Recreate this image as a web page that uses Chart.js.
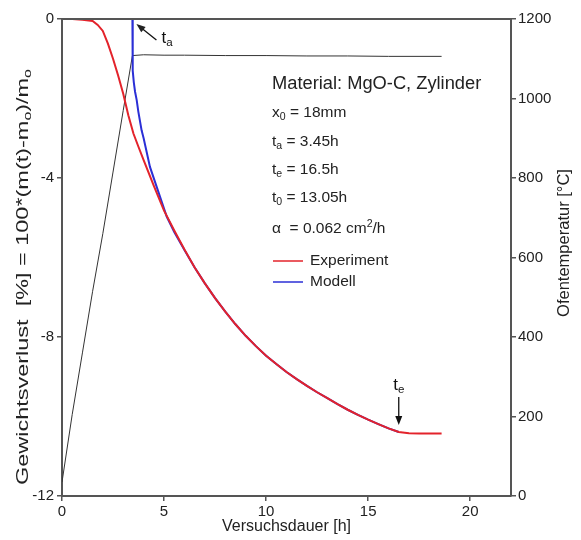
<!DOCTYPE html>
<html><head><meta charset="utf-8">
<script src="https://cdn.jsdelivr.net/npm/chart.js@4/dist/chart.umd.min.js"></script>
<style>html,body{margin:0;padding:0;background:#fff}#wrap{width:581px;height:540px;position:relative}</style>
</head><body><div id="wrap"><canvas id="c" width="581" height="540"></canvas></div>
<script>
// ---- data ----
const expTime = [0,0.5,1,1.5,1.75,2,2.25,2.5,2.75,3,3.25,3.5,3.75,4,4.5,5,5.5,6,6.5,7,7.5,8,8.5,9,9.5,10,10.5,11,11.5,12,12.5,13,13.5,14,14.5,15,15.5,16,16.5,17,17.5,18,18.6];
const expLoss = [0,0,-0.02,-0.05,-0.15,-0.3,-0.62,-1.0,-1.42,-1.88,-2.42,-2.88,-3.22,-3.55,-4.2,-4.82,-5.32,-5.8,-6.25,-6.65,-7.02,-7.36,-7.68,-7.97,-8.23,-8.47,-8.68,-8.88,-9.06,-9.23,-9.39,-9.54,-9.69,-9.83,-9.96,-10.08,-10.19,-10.3,-10.39,-10.42,-10.43,-10.43,-10.43];
const modTime = [3.45,3.46,3.47,3.52,3.58,3.66,3.74,3.9,4.0,4.31,4.8,5.13,5.5,6,6.5,7,7.5,8,8.5,9,9.5,10,10.5,11,11.5,12,12.5,13,13.5,14,14.5,15,15.5,16,16.5];
const modLoss = [0,-0.8,-1.3,-1.6,-1.83,-2.04,-2.33,-2.8,-3.0,-3.72,-4.47,-4.97,-5.36,-5.81,-6.25,-6.65,-7.02,-7.36,-7.68,-7.97,-8.23,-8.47,-8.68,-8.88,-9.06,-9.23,-9.39,-9.54,-9.69,-9.83,-9.96,-10.08,-10.19,-10.3,-10.39];
const tempTime = [0,0.5,1,1.5,2,2.5,3,3.45,4,5,6,8,10,12,14,16,18.6];
const tempValue = [35,205,360,515,660,815,970,1108,1110,1109,1109,1108,1108,1107,1107,1106,1106];
const xTicks = [0,5,10,15,20];
const yTicks = [0,-4,-8,-12];
const y2Ticks = [0,200,400,600,800,1000,1200];
const seriesNames = ['Experiment','Modell','Ofentemperatur'];
const ta = 3.45, te = 16.5;

const FONT = '"Liberation Sans", Arial, Helvetica, sans-serif';
const TXT = '#222';
const AX = '#555';

function toXY(xs, ys){ return xs.map((x,i)=>({x, y: ys[i]})); }

// rich text: parts = [[text, mode]] mode 0 normal, 1 sub, 2 sup
function rich(ctx, parts, x, y, size, align){
  const m = []; let w = 0;
  for (const [t, mode] of parts){
    const fs = mode ? size*0.68 : size;
    ctx.font = fs + 'px ' + FONT;
    const tw = ctx.measureText(t).width;
    m.push([t, mode, fs, tw]); w += tw;
  }
  let cx = align === 'center' ? x - w/2 : (align === 'right' ? x - w : x);
  ctx.textAlign = 'left'; ctx.textBaseline = 'middle';
  for (const [t, mode, fs, tw] of m){
    ctx.font = fs + 'px ' + FONT;
    const dy = mode === 1 ? size*0.28 : (mode === 2 ? -size*0.32 : 0);
    ctx.fillText(t, cx, y + dy);
    cx += tw;
  }
}
function arrow(ctx, x1, y1, x2, y2){
  const a = Math.atan2(y2-y1, x2-x1), L = 9, W = 3.5;
  ctx.beginPath(); ctx.moveTo(x1,y1); ctx.lineTo(x2 - Math.cos(a)*L*0.8, y2 - Math.sin(a)*L*0.8); ctx.stroke();
  ctx.beginPath();
  ctx.moveTo(x2, y2);
  ctx.lineTo(x2 - Math.cos(a)*L + Math.sin(a)*W, y2 - Math.sin(a)*L - Math.cos(a)*W);
  ctx.lineTo(x2 - Math.cos(a)*L - Math.sin(a)*W, y2 - Math.sin(a)*L + Math.cos(a)*W);
  ctx.closePath(); ctx.fill();
}

const decor = {
  id: 'decor',
  afterDraw(chart){
    const ctx = chart.ctx, a = chart.chartArea, sx = chart.scales.x, sy = chart.scales.y;
    ctx.save();
    // top frame line
    ctx.strokeStyle = AX; ctx.lineWidth = 2;
    ctx.beginPath(); ctx.moveTo(a.left, a.top); ctx.lineTo(a.right, a.top); ctx.stroke();
    ctx.fillStyle = TXT; ctx.strokeStyle = '#111'; ctx.lineWidth = 1.3;
    // ta arrow + label
    const tx = sx.getPixelForValue(ta), ty = sy.getPixelForValue(0);
    arrow(ctx, tx + 24, ty + 21, tx + 4, ty + 5);
    ctx.fillStyle = '#111';
    rich(ctx, [['t',0],['a',1]], tx + 29, ty + 19, 17, 'left');
    // te arrow + label
    const ex = sx.getPixelForValue(te), ey = sy.getPixelForValue(-10.39);
    arrow(ctx, ex, ey - 35, ex, ey - 7);
    rich(ctx, [['t',0],['e',1]], ex, ey - 47, 17, 'center');
    // parameter block
    ctx.fillStyle = TXT;
    const bx = 272;
    rich(ctx, [['Material: MgO-C, Zylinder',0]], bx, 84, 18.3, 'left');
    rich(ctx, [['x',0],['0',1],[' = 18mm',0]], bx, 113, 15.5, 'left');
    rich(ctx, [['t',0],['a',1],[' = 3.45h',0]], bx, 142, 15.5, 'left');
    rich(ctx, [['t',0],['e',1],[' = 16.5h',0]], bx, 170, 15.5, 'left');
    rich(ctx, [['t',0],['0',1],[' = 13.05h',0]], bx, 198, 15.5, 'left');
    rich(ctx, [['\u03B1  = 0.062 cm',0],['2',2],['/h',0]], bx, 229, 15.5, 'left');
    // legend
    const ds = chart.data.datasets;
    [[0, 261],[1, 282]].forEach(([i, yy])=>{
      ctx.strokeStyle = ds[i].borderColor; ctx.lineWidth = 1.5;
      ctx.beginPath(); ctx.moveTo(273, yy); ctx.lineTo(303, yy); ctx.stroke();
      ctx.fillStyle = TXT;
      rich(ctx, [[ds[i].label,0]], 310, yy, 15.5, 'left');
    });
    // axis titles
    ctx.fillStyle = TXT;
    rich(ctx, [['Versuchsdauer [h]',0]], (a.left + a.right)/2, 527, 16, 'center');
    ctx.save(); ctx.translate(23, 277); ctx.rotate(-Math.PI/2); ctx.scale(1.38, 1);
    rich(ctx, [['Gewichtsverlust  [%] = 100*(m(t)-m',0],['o',1],[')/m',0],['o',1]], 0, 0, 17, 'center');
    ctx.restore();
    ctx.save(); ctx.translate(564, 243); ctx.rotate(-Math.PI/2);
    rich(ctx, [['Ofentemperatur [\u00B0C]',0]], 0, 0, 16.5, 'center');
    ctx.restore();
    ctx.restore();
  }
};

const tickFont = {family: FONT, size: 15};
const plain = v => String(v);
new Chart(document.getElementById('c'), {
  type: 'line',
  data: {
    datasets: [
      {label: seriesNames[0], data: toXY(expTime, expLoss), yAxisID: 'y', borderColor: '#e3232b', borderWidth: 2, pointRadius: 0, tension: 0, order: 1},
      {label: seriesNames[1], data: toXY(modTime, modLoss), yAxisID: 'y', borderColor: '#2b2fd6', borderWidth: 2, pointRadius: 0, tension: 0, order: 2},
      {label: seriesNames[2], data: toXY(tempTime, tempValue), yAxisID: 'y2', borderColor: '#333', borderWidth: 1, pointRadius: 0, tension: 0, order: 3}
    ]
  },
  options: {
    responsive: false, animation: false, devicePixelRatio: 1,
    layout: {padding: {top: 19, left: 0, right: 0, bottom: 0}},
    plugins: {legend: {display: false}, tooltip: {enabled: false}},
    scales: {
      x: {type: 'linear', min: 0, max: 22,
        afterBuildTicks: s => { s.ticks = xTicks.map(v => ({value: v})); },
        afterFit: s => { s.height = 44; },
        ticks: {font: tickFont, color: TXT, padding: 2, maxRotation: 0, callback: plain},
        grid: {drawOnChartArea: false, drawTicks: true, tickLength: 5, color: AX, lineWidth: 1.5},
        border: {display: true, color: AX, width: 2}},
      y: {type: 'linear', position: 'left', min: -12, max: 0,
        afterBuildTicks: s => { s.ticks = yTicks.map(v => ({value: v})); },
        afterFit: s => { s.width = 62; },
        ticks: {font: tickFont, color: TXT, padding: 3, callback: plain},
        grid: {drawOnChartArea: false, drawTicks: true, tickLength: 5, color: AX, lineWidth: 1.5},
        border: {display: true, color: AX, width: 2}},
      y2: {type: 'linear', position: 'right', min: 0, max: 1200,
        afterBuildTicks: s => { s.ticks = y2Ticks.map(v => ({value: v})); },
        afterFit: s => { s.width = 70; },
        ticks: {font: tickFont, color: TXT, padding: 2, callback: plain},
        grid: {drawOnChartArea: false, drawTicks: true, tickLength: 5, color: AX, lineWidth: 1.5},
        border: {display: true, color: AX, width: 2}}
    }
  },
  plugins: [decor]
});
</script></body></html>
